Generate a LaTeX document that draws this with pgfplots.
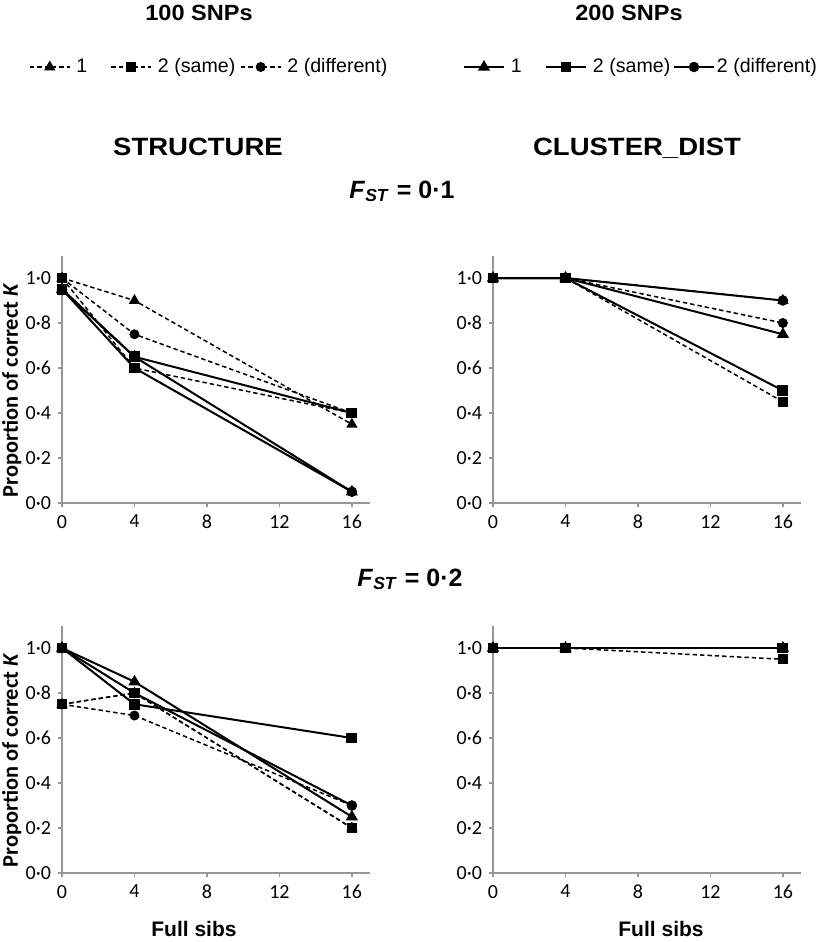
\documentclass[border=0pt]{standalone}
\usepackage{fontspec}
\setmainfont{Carlito}
\newfontfamily\arialfont{Liberation Sans}
\usepackage{pgfplots}
\pgfplotsset{compat=1.18}
\definecolor{axisgray}{RGB}{150,150,150}
\pgfplotsset{
  dstyle/.style={black, line width=0.75pt, dash pattern=on 2.2pt off 1.5pt, mark options={solid, fill=black}},
  sstyle/.style={black, line width=1pt, solid, mark options={solid, fill=black}},
  tri/.style={mark=triangle*, mark size=2.5pt},
  sq/.style={mark=square*, mark size=2.2pt},
  cir/.style={mark=*, mark size=2.1pt},
  panel/.style={
    scale only axis, width=154pt, height=123.75pt,
    xmin=0, xmax=17, ymin=0, ymax=1.1,
    axis x line*=bottom, axis y line*=left,
    axis line style={axisgray, line width=1.1pt, -},
    xtick={0,4,8,12,16}, xticklabels={0,4,8,12,16},
    ytick={0,0.2,0.4,0.6,0.8,1}, yticklabels={0·0,0·2,0·4,0·6,0·8,1·0},
    tick align=outside, major tick length=2pt,
    every tick/.style={axisgray, line width=0.8pt},
    tick label style={font=\fontsize{10}{12}\selectfont, black},
    xticklabel style={yshift=-0.5pt},
    clip=false,
    legend image code/.code={\draw[mark repeat=2,mark phase=2,##1] plot coordinates {(0pt,0pt) (10pt,0pt) (20pt,0pt)};},
    legend columns=3,
    legend style={draw=none, fill=none, inner sep=0pt, outer sep=0pt, column sep=0pt,
      font=\arialfont\fontsize{9.8}{11}\selectfont, nodes={inner sep=0pt}},
    legend cell align=left,
  },
  ylab/.style={
    ylabel={\bfseries Proportion of correct \textit{K}},
    every axis y label/.style={at={(axis description cs:-0.163,0.455)}, rotate=90, anchor=center, font=\fontsize{11.2}{13}\selectfont},
  },
}
\begin{document}
\begin{tikzpicture}
\path[use as bounding box] (0pt,0pt) rectangle (407.5pt,-471pt);

% titles
\node[anchor=base] at (99.5pt,-10pt) {\arialfont\bfseries\fontsize{11}{13}\selectfont\scalebox{1.07}[1]{100 SNPs}};
\node[anchor=base] at (314.5pt,-10pt) {\arialfont\bfseries\fontsize{11}{13}\selectfont\scalebox{1.07}[1]{200 SNPs}};
\node[anchor=base] at (99pt,-77.5pt) {\arialfont\bfseries\fontsize{12.5}{15}\selectfont\scalebox{1.1}[1]{STRUCTURE}};
\node[anchor=base] at (318.5pt,-77.5pt) {\arialfont\bfseries\fontsize{12.5}{15}\selectfont\scalebox{1.1}[1]{CLUSTER\_DIST}};
\node[anchor=base] at (201pt,-99pt) {\arialfont\bfseries\fontsize{12.5}{15}\selectfont\textit{F}\textsubscript{\textit{ST}} = 0·1};
\node[anchor=base] at (205pt,-293pt) {\arialfont\bfseries\fontsize{12.5}{15}\selectfont\textit{F}\textsubscript{\textit{ST}} = 0·2};
\node[anchor=base] at (97pt,-468pt) {\arialfont\bfseries\fontsize{10.5}{12}\selectfont Full sibs};
\node[anchor=base] at (330.5pt,-468pt) {\arialfont\bfseries\fontsize{10.5}{12}\selectfont Full sibs};

% ---------------- top-left: STRUCTURE, FST = 0.1
\begin{axis}[panel, ylab, at={(31pt,-251.5pt)}, anchor=south west,
  legend style={at={(axis description cs:-0.1072,1.7616)}, anchor=west}]
\addlegendimage{dstyle, tri}\addlegendentry{\hspace{3pt}\makebox[17pt][l]{1}}
\addlegendimage{dstyle, sq}\addlegendentry{\hspace{3pt}\makebox[41pt][l]{2 (same)}}
\addlegendimage{dstyle, cir}\addlegendentry{\hspace{3pt}2 (different)}
\addplot[dstyle, tri, forget plot] coordinates {(0,1.0) (4,0.9) (16,0.35)};
\addplot[dstyle, cir, forget plot] coordinates {(0,1.0) (4,0.75) (16,0.4)};
\addplot[sstyle, tri, forget plot] coordinates {(0,0.95) (4,0.65) (16,0.05)};
\addplot[sstyle, cir, forget plot] coordinates {(0,0.95) (4,0.6) (16,0.05)};
\addplot[dstyle, sq, forget plot] coordinates {(0,1.0) (4,0.6) (16,0.4)};
\addplot[sstyle, sq, forget plot] coordinates {(0,0.95) (4,0.65) (16,0.4)};
\end{axis}

% ---------------- top-right: CLUSTER_DIST, FST = 0.1
\begin{axis}[panel, at={(246.5pt,-251.5pt)}, anchor=south west,
  legend style={at={(axis description cs:-0.0975,1.7616)}, anchor=west}]
\addlegendimage{sstyle, tri}\addlegendentry{\hspace{3pt}\makebox[17pt][l]{1}}
\addlegendimage{sstyle, sq}\addlegendentry{\hspace{3pt}\makebox[40pt][l]{2 (same)}}
\addlegendimage{sstyle, cir}\addlegendentry{\hspace{1pt}2 (different)}
\addplot[dstyle, tri, forget plot] coordinates {(0,1.0) (4,1.0) (16,0.9)};
\addplot[dstyle, cir, forget plot] coordinates {(0,1.0) (4,1.0) (16,0.8)};
\addplot[sstyle, tri, forget plot] coordinates {(0,1.0) (4,1.0) (16,0.75)};
\addplot[sstyle, cir, forget plot] coordinates {(0,1.0) (4,1.0) (16,0.9)};
\addplot[dstyle, sq, forget plot] coordinates {(0,1.0) (4,1.0) (16,0.45)};
\addplot[sstyle, sq, forget plot] coordinates {(0,1.0) (4,1.0) (16,0.5)};
\end{axis}

% ---------------- bottom-left: STRUCTURE, FST = 0.2
\begin{axis}[panel, ylab, at={(31pt,-436.5pt)}, anchor=south west]
\addplot[dstyle, tri, forget plot] coordinates {(0,0.75) (4,0.8) (16,0.2)};
\addplot[dstyle, cir, forget plot] coordinates {(0,0.75) (4,0.7) (16,0.3)};
\addplot[sstyle, tri, forget plot] coordinates {(0,1.0) (4,0.85) (16,0.25)};
\addplot[sstyle, cir, forget plot] coordinates {(0,1.0) (4,0.8) (16,0.3)};
\addplot[dstyle, sq, forget plot] coordinates {(0,0.75) (4,0.8) (16,0.2)};
\addplot[sstyle, sq, forget plot] coordinates {(0,1.0) (4,0.75) (16,0.6)};
\end{axis}

% ---------------- bottom-right: CLUSTER_DIST, FST = 0.2
\begin{axis}[panel, at={(246.5pt,-436.5pt)}, anchor=south west]
\addplot[dstyle, tri, forget plot] coordinates {(0,1.0) (4,1.0) (16,1.0)};
\addplot[dstyle, cir, forget plot] coordinates {(0,1.0) (4,1.0) (16,1.0)};
\addplot[sstyle, tri, forget plot] coordinates {(0,1.0) (4,1.0) (16,1.0)};
\addplot[sstyle, cir, forget plot] coordinates {(0,1.0) (4,1.0) (16,1.0)};
\addplot[dstyle, sq, forget plot] coordinates {(0,1.0) (4,1.0) (16,0.95)};
\addplot[sstyle, sq, forget plot] coordinates {(0,1.0) (4,1.0) (16,1.0)};
\end{axis}
\end{tikzpicture}
\end{document}
